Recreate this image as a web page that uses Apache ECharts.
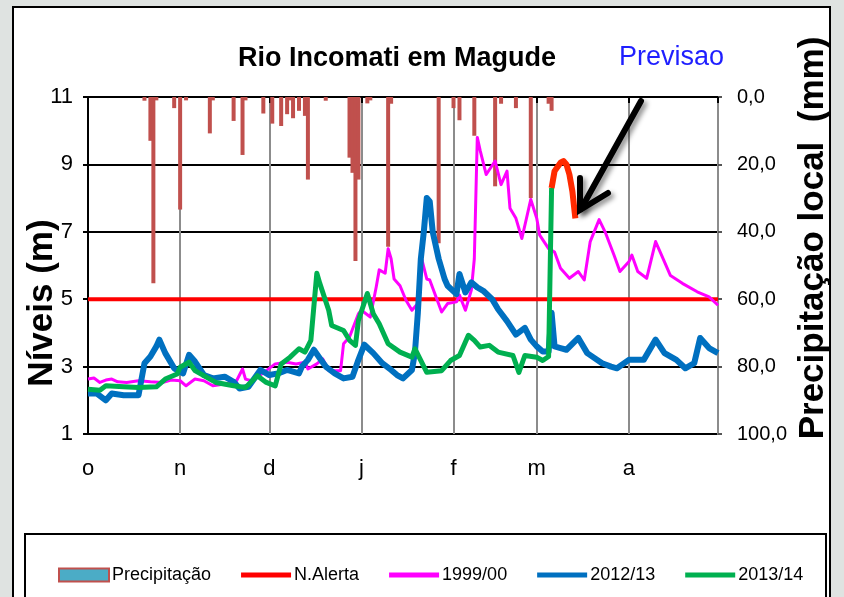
<!DOCTYPE html>
<html>
<head>
<meta charset="utf-8">
<script src="https://cdn.jsdelivr.net/npm/echarts@6/dist/echarts.min.js"></script>
<style>
  html, body { margin: 0; padding: 0; background: #dfe3e1; }
  #main { width: 844px; height: 597px; }
</style>
</head>
<body>
<div id="main"></div>
<script>
// eixo x: dias desde 1 de outubro
var nDias = 213;
var mesLetras = ['o', 'n', 'd', 'j', 'f', 'm', 'a'];
var mesInicio = [0, 31, 61, 92, 123, 151, 182];

// [dia, nivel (m)]
var nivel1999 = [[0,2.63],[2,2.66],[4,2.53],[6,2.6],[8,2.63],[10,2.55],[13,2.53],[17,2.58],[21,2.55],[25,2.53],[28,2.6],[31,2.58],[33,2.43],[36,2.63],[39,2.58],[42,2.43],[46,2.48],[50,2.58],[52,2.93],[53,2.63],[55,2.58],[58,2.75],[60,2.88],[63,3.08],[67,3.13],[70,3.08],[73,3.13],[74,2.93],[77,3.08],[79,3.23],[81,2.88],[85,2.88],[86,3.68],[88,3.88],[91,4.57],[92,4.67],[95,4.47],[97,5.37],[98,5.87],[100,5.77],[101,6.5],[102,6.2],[103,5.6],[105,5.4],[107,4.97],[109,4.67],[111,4.87],[112,6.3],[114,5.6],[115,5.57],[119,4.62],[121,4.87],[124,4.92],[125,5.12],[127,4.67],[129,5.27],[130,6.2],[131,9.8],[132,9.4],[134,8.7],[137,9.1],[139,8.4],[141,8.8],[142,7.7],[144,7.4],[146,6.8],[149,7.96],[151,7.4],[152,6.9],[155,6.5],[157,6.4],[159,5.92],[162,5.62],[165,5.82],[167,5.57],[169,6.71],[172,7.36],[174,7.0],[177,6.31],[179,5.82],[182,6.11],[183,6.31],[185,5.82],[188,5.62],[191,6.71],[193,6.31],[196,5.7],[200,5.47],[205,5.22],[209,5.07],[212,4.82]];

var nivel2012 = [[0,2.2],[3,2.2],[6,2.0],[8,2.2],[12,2.15],[17,2.15],[19,3.1],[21,3.3],[23,3.6],[24,3.8],[26,3.4],[29,2.95],[32,2.8],[34,3.35],[36,3.15],[39,2.75],[42,2.65],[46,2.7],[49,2.55],[51,2.35],[54,2.4],[58,2.9],[61,2.75],[64,2.8],[67,2.9],[71,2.8],[72,3.0],[74,3.2],[76,3.5],[78,3.25],[80,3.0],[83,2.8],[86,2.65],[89,2.7],[91,3.2],[93,3.65],[96,3.4],[99,3.1],[102,2.9],[104,2.75],[106,2.65],[109,2.9],[110,3.4],[111,4.6],[112,6.2],[113,7.0],[114,8.0],[115,7.9],[116,7.0],[118,6.2],[120,5.6],[121,5.4],[124,5.15],[125,5.75],[127,5.2],[129,5.5],[131,5.35],[133,5.25],[136,5.0],[138,4.7],[141,4.35],[144,3.95],[147,4.15],[149,3.8],[151,3.6],[153,3.45],[155,3.45],[156,4.6],[157,3.6],[159,3.55],[161,3.5],[165,3.85],[168,3.4],[173,3.1],[176,3.0],[178,2.95],[182,3.2],[187,3.2],[191,3.8],[194,3.4],[198,3.2],[201,2.95],[204,3.1],[206,3.85],[209,3.55],[212,3.4]];

var nivel2013 = [[0,2.33],[4,2.3],[6,2.43],[12,2.4],[17,2.38],[23,2.4],[26,2.63],[30,2.78],[31,2.98],[34,3.13],[36,2.88],[40,2.68],[43,2.53],[49,2.43],[53,2.38],[57,2.73],[60,2.53],[63,2.43],[65,3.08],[68,3.28],[71,3.53],[73,3.43],[75,3.78],[77,5.77],[78,5.47],[81,4.67],[82,4.22],[86,4.07],[88,3.78],[90,3.63],[91,4.37],[94,5.17],[96,4.57],[98,4.27],[101,3.68],[105,3.43],[109,3.28],[110,3.53],[114,2.83],[119,2.88],[122,3.18],[125,3.33],[128,3.93],[130,3.78],[132,3.58],[135,3.63],[138,3.43],[143,3.33],[145,2.83],[147,3.33],[151,3.28],[153,3.18],[155,3.3],[156,8.3]];

var previsao = [[156,8.3],[157,8.8],[159,9.05],[160,9.1],[161,9.0],[162,8.7],[163,8.2],[164,7.4]];

var nAlerta = [[0,5],[212,5]];

// [dia, mm]
var precipitacao = [[19,1.1],[21,13],[22,55.3],[23,1],[29,3.3],[31,33.4],[33,1],[41,10.8],[42,1],[49,7.1],[52,17.2],[53,1],[59,4.9],[62,7.9],[65,8.6],[67,5.1],[68,1],[69,6.3],[71,4.1],[73,5.6],[74,24.5],[80,1.1],[88,18],[89,22.5],[90,48.7],[91,24.5],[94,1.9],[95,1],[101,44.4],[102,2],[118,43.4],[123,3.3],[125,6.9],[130,11.5],[137,26.5],[139,2],[144,3.3],[149,30],[155,2],[156,4.1]];

var dias = [];
for (var i = 0; i < nDias; i++) {
  var k = mesInicio.indexOf(i);
  dias.push(k >= 0 ? mesLetras[k] : String(i));
}

var fonte = "'Liberation Sans', Arial, sans-serif";
// faixa fina centrada na caixa do icone da legenda
var iconeLinha = 'path://M0,0L0.01,0M0,4L50,4L50,9L0,9ZM50,13L49.99,13';

var chart = echarts.init(document.getElementById('main'));

var option = {
  backgroundColor: 'transparent',
  animation: false,
  title: {
    text: 'Rio Incomati em Magude',
    left: 392,
    top: 40,
    textAlign: 'center',
    textStyle: { fontFamily: fonte, fontSize: 27, fontWeight: 'bold', color: '#000' }
  },
  legend: {
    left: 53,
    top: 561,
    itemWidth: 50,
    itemHeight: 13,
    itemGap: 30,
    textStyle: { fontFamily: fonte, fontSize: 18, color: '#000', padding: [0, 0, 0, -2] },
    data: [
      { name: 'Precipitação', icon: 'rect', itemStyle: { color: '#4bacc6', borderColor: '#c0504d', borderWidth: 2 } },
      { name: 'N.Alerta', icon: iconeLinha, itemStyle: { color: '#ff0000' } },
      { name: '1999/00', icon: iconeLinha, itemStyle: { color: '#ff00ff' } },
      { name: '2012/13', icon: iconeLinha, itemStyle: { color: '#0070c0' } },
      { name: '2013/14', icon: iconeLinha, itemStyle: { color: '#00b050' } }
    ]
  },
  grid: { left: 88, right: 126, top: 97, bottom: 163 },
  xAxis: {
    type: 'category',
    data: dias,
    boundaryGap: false,
    axisLine: { lineStyle: { color: '#000', width: 2 } },
    axisTick: {
      length: 6,
      lineStyle: { color: '#000', width: 2 },
      interval: function (idx) { return mesInicio.indexOf(idx) >= 0 || idx === nDias - 1; }
    },
    axisLabel: {
      margin: 24,
      fontFamily: fonte,
      fontSize: 22,
      color: '#000',
      interval: function (idx) { return mesInicio.indexOf(idx) >= 0; }
    },
    splitLine: {
      show: true,
      lineStyle: { color: '#8c8c8c', width: 2 },
      interval: function (idx) { return idx > 0 && mesInicio.indexOf(idx) >= 0; }
    }
  },
  yAxis: [{
    type: 'value',
    min: 1,
    max: 11,
    interval: 2,
    axisLine: { show: true, lineStyle: { color: '#000', width: 2 } },
    axisTick: { show: true, length: 5, lineStyle: { color: '#000', width: 2 } },
    axisLabel: { margin: 15, fontFamily: fonte, fontSize: 22, color: '#000' },
    splitLine: { lineStyle: { color: ['#000', '#000', '#000', '#000', '#000', '#8c8c8c'], width: 2 } }
  }, {
    type: 'value',
    position: 'right',
    min: 0,
    max: 100,
    interval: 20,
    inverse: true,
    axisLine: { show: true, lineStyle: { color: '#8c8c8c', width: 2 } },
    axisTick: { show: true, length: 4, lineStyle: { color: '#555', width: 2 } },
    axisLabel: {
      margin: 19,
      fontFamily: fonte,
      fontSize: 20,
      color: '#000',
      formatter: function (v) { return v.toFixed(1).replace('.', ','); }
    },
    splitLine: { show: false }
  }],
  series: [{
    name: 'Precipitação',
    type: 'bar',
    yAxisIndex: 1,
    barWidth: 4,
    itemStyle: { color: '#c0504d' },
    data: precipitacao,
    z: 1
  }, {
    name: 'N.Alerta',
    type: 'line',
    symbol: 'none',
    lineStyle: { color: '#ff0000', width: 4 },
    itemStyle: { color: '#ff0000' },
    data: nAlerta,
    z: 3
  }, {
    name: '1999/00',
    type: 'line',
    symbol: 'none',
    lineStyle: { color: '#ff00ff', width: 3, join: 'round' },
    itemStyle: { color: '#ff00ff' },
    data: nivel1999,
    z: 4
  }, {
    name: '2012/13',
    type: 'line',
    symbol: 'none',
    lineStyle: { color: '#0070c0', width: 6, join: 'round' },
    itemStyle: { color: '#0070c0' },
    data: nivel2012,
    z: 5
  }, {
    name: '2013/14',
    type: 'line',
    symbol: 'none',
    lineStyle: { color: '#00b050', width: 5, join: 'round' },
    itemStyle: { color: '#00b050' },
    data: nivel2013,
    z: 6
  }, {
    name: 'Previsao',
    type: 'line',
    symbol: 'none',
    lineStyle: { color: '#ff2a00', width: 6, join: 'round' },
    itemStyle: { color: '#ff2a00' },
    data: previsao,
    z: 7
  }],
  graphic: [
    // moldura do grafico e da legenda
    { type: 'rect', z: -10, shape: { x: 13, y: 7, width: 817, height: 600 }, style: { fill: '#fff', stroke: '#000', lineWidth: 2 } },
    { type: 'rect', z: -9, shape: { x: 25, y: 534, width: 801, height: 80 }, style: { fill: 'none', stroke: '#000', lineWidth: 2 } },
    {
      type: 'text', x: 42, y: 303, rotation: Math.PI / 2,
      style: { text: 'Níveis (m)', fontFamily: fonte, fontSize: 35, fontWeight: 'bold', fill: '#000', align: 'center', verticalAlign: 'middle' }
    },
    {
      type: 'text', x: 813, y: 238, rotation: Math.PI / 2,
      style: { text: 'Precipitação local  (mm)', fontFamily: fonte, fontSize: 35, fontWeight: 'bold', fill: '#000', align: 'center', verticalAlign: 'middle' }
    },
    {
      type: 'text', x: 619, y: 58,
      style: { text: 'Previsao', fontFamily: fonte, fontSize: 27, fill: '#1f1fff', align: 'left', verticalAlign: 'middle' }
    },
    // seta da previsao
    {
      type: 'polyline', z: 100,
      shape: { points: [[641, 101], [581, 209]] },
      style: { stroke: '#000', lineWidth: 6, lineCap: 'round', shadowColor: 'rgba(0,0,0,0.45)', shadowBlur: 5, shadowOffsetX: 3, shadowOffsetY: 3 }
    },
    {
      type: 'polyline', z: 100,
      shape: { points: [[580, 178], [580, 210], [608, 193]] },
      style: { stroke: '#000', lineWidth: 6, lineCap: 'round', lineJoin: 'miter', fill: 'none', shadowColor: 'rgba(0,0,0,0.45)', shadowBlur: 5, shadowOffsetX: 3, shadowOffsetY: 3 }
    }
  ]
};

chart.setOption(option);
</script>
</body>
</html>
